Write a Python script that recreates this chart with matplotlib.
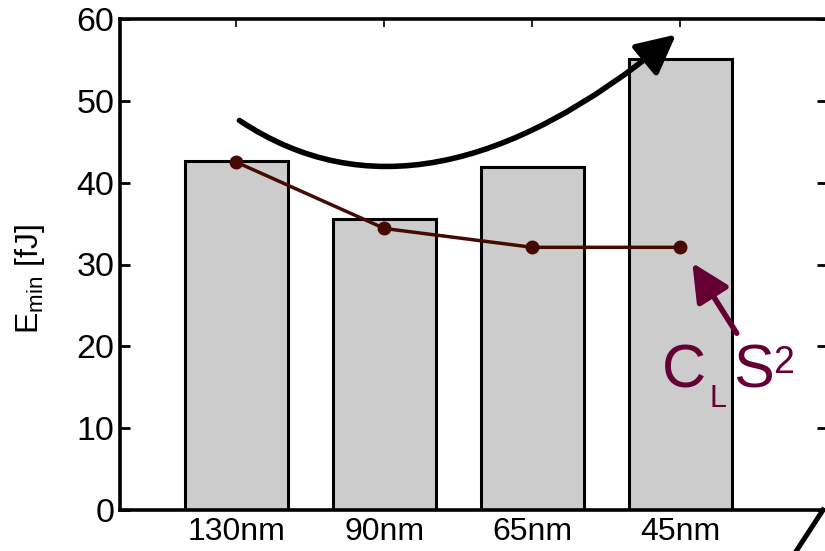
import matplotlib
matplotlib.use('Agg')
import matplotlib.pyplot as plt
from matplotlib.path import Path
from matplotlib.patches import FancyArrowPatch
from matplotlib.lines import Line2D

plt.rcParams['font.family'] = ['Liberation Sans', 'DejaVu Sans']
plt.rcParams['mathtext.fontset'] = 'custom'
plt.rcParams['mathtext.rm'] = 'Liberation Sans'
plt.rcParams['mathtext.it'] = 'Liberation Sans:italic'

# technology nodes and minimum energy per operation
nodes = ['130nm', '90nm', '65nm', '45nm']
emin = [42.7, 35.5, 41.9, 55.1]
# C_L * S^2 trend
cls2 = [42.5, 34.4, 32.1, 32.1]

maroon = '#650035'
brown = '#450b00'

fig = plt.figure(figsize=(8.25, 5.51), dpi=100)
ax = fig.add_axes([120 / 825, 41 / 551, 707 / 825, 491 / 551])

x = list(range(1, len(nodes) + 1))
ax.bar(x, emin, width=0.7, color='#cccccc', edgecolor='black', linewidth=2.2, zorder=2)
ax.plot(x, cls2, '-o', color=brown, linewidth=2.5, markersize=9, zorder=3)

ax.set_xlim(0.213, 4.99)
ax.set_ylim(0, 60)
ax.set_yticks(range(0, 61, 10))
ax.set_xticks(x)
ax.set_xticklabels(nodes, fontsize=23)
ax.tick_params(axis='y', labelsize=24.5, direction='in', length=7, width=2,
               right=True, pad=4)
ax.tick_params(axis='x', direction='in', length=6, width=1.2, top=True, pad=5)
ax.set_axisbelow(True)
for s in ax.spines.values():
    s.set_linewidth(2.6)

ax.set_ylabel(r'$\mathregular{E_{min}}$ [fJ]', fontsize=23)
ax.yaxis.set_label_coords(-0.103, 0.47)

# rising trend of the energy minimum
trend = Path([(1.02, 47.6), (2.264, 32.6), (3.97, 58.1)],
             [Path.MOVETO, Path.CURVE3, Path.CURVE3])
arrow = FancyArrowPatch(path=trend, arrowstyle='-|>,head_length=1.2,head_width=0.6',
                        mutation_scale=20, linewidth=4, color='black',
                        transform=ax.transData, clip_on=False, zorder=5)
ax.add_patch(arrow)

# pointer to the C_L S^2 curve
ax.annotate('', xy=(4.08, 30.2), xytext=(4.38, 21.6),
            arrowprops=dict(arrowstyle='-|>,head_length=1.15,head_width=0.56',
                            mutation_scale=20, color=maroon, lw=4,
                            shrinkA=0, shrinkB=0), zorder=5)


def px(xp, yp):
    return xp / 825, 1 - yp / 551


fig.text(*px(662, 388), 'C', fontsize=44, color=maroon, va='baseline', ha='left')
fig.text(*px(710, 407), 'L', fontsize=22, color=maroon, va='baseline', ha='left')
fig.text(*px(733, 388), 'S', fontsize=44, color=maroon, va='baseline', ha='left')
fig.text(*px(773, 373), '2', fontsize=27, color=maroon, va='baseline', ha='left')

# stray stroke at the lower right corner
fig.add_artist(Line2D([823 / 825, 795 / 825], [1 - 510 / 551, 1 - 553 / 551],
                      transform=fig.transFigure, color='black', linewidth=3.6))

fig.savefig('out.png', dpi=100)
